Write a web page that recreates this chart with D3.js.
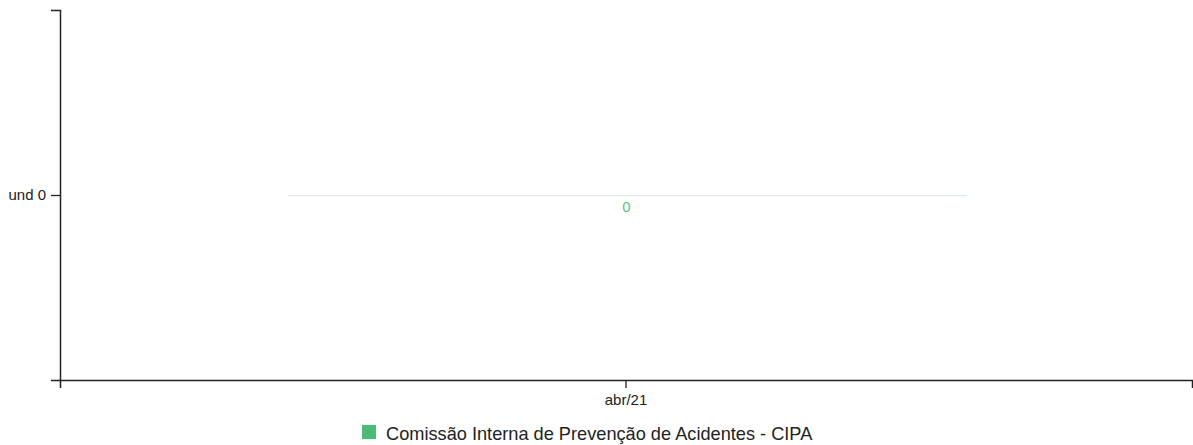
<!DOCTYPE html>
<html><head><meta charset="utf-8">
<script src="https://cdn.jsdelivr.net/npm/d3@7/dist/d3.min.js"></script>
<style>body{margin:0;background:#fff;font-family:"Liberation Sans",Arial,sans-serif;}</style>
</head><body><svg id="c" width="1193" height="445"></svg>
<script>
const categories = ["abr/21"];
const seriesName = "Comissão Interna de Prevenção de Acidentes - CIPA";
const values = [0];
const yUnit = "und";

const svg = d3.select("#c");
const m = {l:60, r:1192, t:10, b:380};
const x = d3.scaleBand().domain(categories).range([m.l, m.r]).paddingInner(0.4).paddingOuter(0.2);
const y = d3.scaleLinear().domain([d3.min(values), d3.max(values)]).range([m.b, m.t]);
const color = "#4cbb74";
const ff = "Liberation Sans, Arial, sans-serif";

const ya = svg.append("g").attr("transform", `translate(${m.l},0)`)
  .call(d3.axisLeft(y).ticks(1).tickSize(9).tickFormat(d => yUnit + " " + d));
ya.attr("font-size", 15).attr("font-family", ff);
ya.selectAll("text").attr("fill", "#222").attr("x", -14);
ya.select(".domain").attr("stroke", "#222").attr("stroke-width", 1.5);
ya.selectAll(".tick line").attr("stroke", "#222").attr("stroke-width", 1.3);

const xa = svg.append("g").attr("transform", `translate(0,${m.b})`).call(d3.axisBottom(x).tickSize(8));
xa.attr("font-size", 15).attr("font-family", ff);
xa.selectAll("text").attr("fill", "#222").attr("y", 25).attr("dy", 0);
xa.select(".domain").attr("stroke", "#222").attr("stroke-width", 1.5);
xa.selectAll(".tick line").attr("stroke", "#222").attr("stroke-width", 1.3);

// bars (zero-height bars show as a thin line)
svg.append("g").selectAll("rect").data(values).join("rect")
  .attr("x", (d,i) => x(categories[i]) + 1.5)
  .attr("width", x.bandwidth())
  .attr("y", d => Math.min(y(d), y(0)))
  .attr("height", d => Math.max(1, Math.abs(y(d) - y(0))))
  .attr("fill", color).attr("fill-opacity", 0.25);

svg.append("g").selectAll("text").data(values).join("text")
  .attr("x", (d,i) => x(categories[i]) + x.bandwidth()/2 + 0.5)
  .attr("y", d => y(d) + 17)
  .attr("text-anchor", "middle").attr("font-size", 15).attr("font-family", ff)
  .attr("fill", "#5bc47f").text(d => d);

const lg = svg.append("g");
lg.append("rect").attr("x", 362).attr("y", 425).attr("width", 14).attr("height", 14).attr("fill", color);
lg.append("text").attr("x", 386).attr("y", 440).attr("font-size", 18.2).attr("font-family", ff).attr("fill", "#222").text(seriesName);
</script></body></html>
